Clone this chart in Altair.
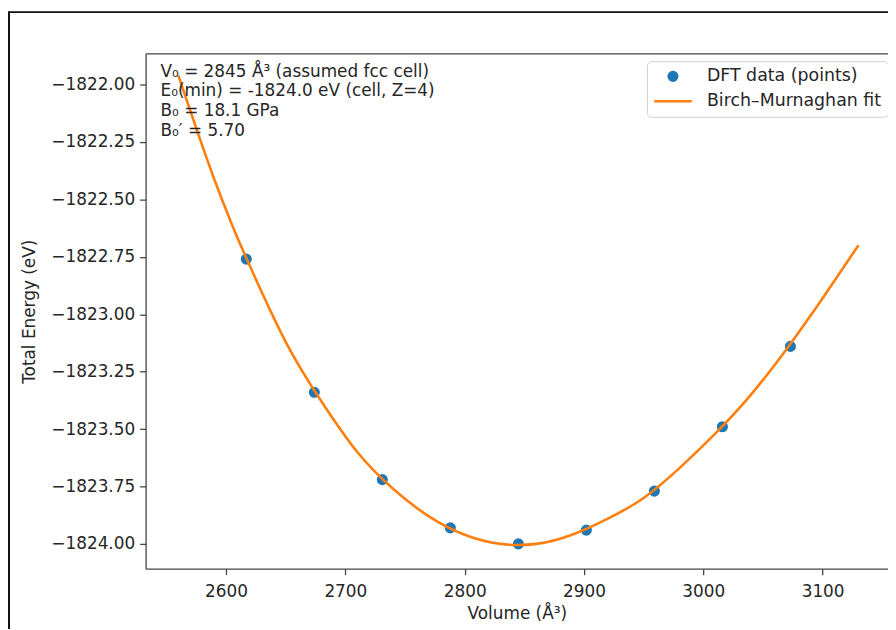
import altair as alt
import pandas as pd

# ---- values ----
dft_volume = [2617, 2674, 2731, 2788, 2845, 2902, 2959, 3016, 3073]
dft_energy = [-1822.76, -1823.34, -1823.72, -1823.93, -1824.00, -1823.94, -1823.77, -1823.49, -1823.14]

fit_volume = [2560, 2575, 2590, 2605, 2620, 2650, 2680, 2710, 2740, 2770, 2800, 2830,
              2860, 2890, 2920, 2950, 2980, 3010, 3040, 3070, 3100, 3130]
fit_energy = [-1821.96, -1822.19, -1822.41, -1822.61, -1822.79, -1823.12, -1823.38, -1823.60,
              -1823.76, -1823.88, -1823.96, -1824.00, -1824.00, -1823.96, -1823.89, -1823.80,
              -1823.67, -1823.52, -1823.35, -1823.15, -1822.93, -1822.70]

series_names = ["DFT data (points)", "Birch–Murnaghan fit"]
series_colors = ["#1f77b4", "#ff7f0e"]

annotation_lines = [
    "V₀ = 2845 Å³ (assumed fcc cell)",
    "E₀(min) = -1824.0 eV (cell, Z=4)",
    "B₀ = 18.1 GPa",
    "B₀′ = 5.70",
]

x_ticks = [2600, 2700, 2800, 2900, 3000, 3100]
y_ticks = [-1824.0, -1823.75, -1823.5, -1823.25, -1823.0, -1822.75, -1822.5, -1822.25, -1822.0]
x_domain = [2532.6, 3154.8]
y_domain = [-1824.108, -1821.866]

FONT = "DejaVu Sans"
TXT = "#262626"
SPINE = "#444444"

dft = pd.DataFrame({"volume": dft_volume, "energy": dft_energy,
                    "series": [series_names[0]] * len(dft_volume)})
fit = pd.DataFrame({"volume": fit_volume, "energy": fit_energy})
note = pd.DataFrame({"label": ["\n".join(annotation_lines)]})
one = pd.DataFrame({"k": [0]})

x_enc = alt.X("volume:Q",
              scale=alt.Scale(domain=x_domain, nice=False, zero=False),
              axis=alt.Axis(values=x_ticks, format="d", title="Volume (Å³)"))
y_enc = alt.Y("energy:Q",
              scale=alt.Scale(domain=y_domain, nice=False, zero=False),
              axis=alt.Axis(values=y_ticks, format=".2f", title="Total Energy (eV)"))

circle_path = "M-0.6,0A0.6,0.6,0,1,1,0.6,0A0.6,0.6,0,1,1,-0.6,0Z"
line_path = "M-2.62,0H2.62"

legend_opts = dict(title=None, orient="none", legendX=505.3, legendY=7.5)

points = alt.Chart(dft).mark_point(
    filled=False, fill="#1f77b4", fillOpacity=1, opacity=1, size=210, strokeWidth=2.5
).encode(
    x=x_enc, y=y_enc,
    color=alt.Color("series:N",
                    scale=alt.Scale(domain=series_names, range=series_colors),
                    legend=alt.Legend(**legend_opts)),
    shape=alt.Shape("series:N",
                    scale=alt.Scale(domain=series_names, range=[circle_path, line_path]),
                    legend=alt.Legend(**legend_opts)),
)

curve = alt.Chart(fit).mark_line(
    color="#ff7f0e", strokeWidth=2.6, interpolate="natural"
).encode(x="volume:Q", y="energy:Q")

text = alt.Chart(note).mark_text(
    align="left", baseline="top", lineBreak="\n", lineHeight=20,
    fontSize=17, font=FONT, color=TXT
).encode(x=alt.value(15), y=alt.value(10), text="label:N")

top_spine = alt.Chart(one).mark_rule(color=SPINE, strokeWidth=1.3).encode(
    x=alt.value(0), x2=alt.value(760), y=alt.value(0))

frame_left = alt.Chart(one).mark_rule(color="#111111", strokeWidth=2).encode(
    x=alt.value(-137.7), y=alt.value(-42.5), y2=alt.value(640))
frame_top = alt.Chart(one).mark_rule(color="#111111", strokeWidth=2).encode(
    x=alt.value(-138.7), x2=alt.value(760), y=alt.value(-42))

chart = alt.layer(points, curve, text, top_spine, frame_left, frame_top).properties(
    width=748.3, height=519,
    autosize=alt.AutoSizeParams(type="none"),
    padding={"left": 138.7, "top": 43.7, "right": 0, "bottom": 58},
    background="white",
).configure_view(stroke=None).configure_axis(
    labelFont=FONT, labelFontSize=17, labelColor=TXT,
    titleFont=FONT, titleFontSize=17, titleFontWeight="normal", titleColor=TXT,
    tickColor=SPINE, tickSize=6, tickWidth=1.3,
    domainColor=SPINE, domainWidth=1.3, grid=False, labelPadding=5,
).configure_axisY(titlePadding=12).configure_axisX(titlePadding=6, labelPadding=9).configure_legend(
    labelFont=FONT, labelFontSize=17.5, labelColor=TXT, labelLimit=400,
    symbolSize=210, symbolStrokeWidth=2.5, symbolOffset=11, labelOffset=25.5,
    padding=6.5, rowPadding=5, strokeColor="#d0d0d0", fillColor="white", cornerRadius=4,
)

chart.save("out.html", embed_options={"renderer": "svg", "actions": False})
